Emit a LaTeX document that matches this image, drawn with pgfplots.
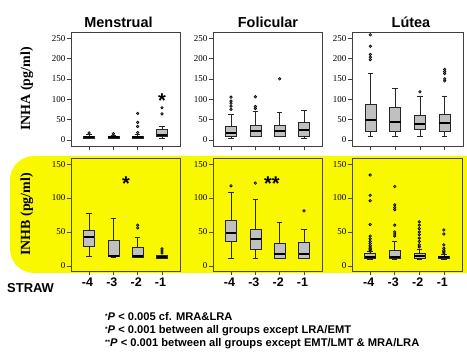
\documentclass[border=0pt]{standalone}
\usepackage{fontspec}
\setmainfont{Liberation Serif}
\newfontfamily\sansf{Liberation Sans}
\usepackage{pgfplots}
\pgfplotsset{compat=1.18}
\usepgfplotslibrary{statistics}
\definecolor{boxgray}{RGB}{192,192,192}
\definecolor{ylw}{RGB}{250,248,0}
\definecolor{frameol}{RGB}{80,76,10}
\tikzset{astnode/.style={anchor=north, inner sep=0pt, font=\sansf\bfseries\fontsize{20}{20}\selectfont}}
\pgfplotsset{
  panel/.style={scale only axis, width=109bp, xmin=0.26, xmax=4.74, xtick={1,2,3,4},
    tick align=outside, tick pos=left, major tick length=4.5bp,
    /pgf/number format/assume math mode=true,
    yticklabel style={font=\fontsize{9}{9}\selectfont, inner sep=1bp},
    every axis y label/.style={at={(axis description cs:-0.405,0.5)}, rotate=90, anchor=center, font=\fontsize{14}{14}\selectfont\bfseries},
  },
  toprow/.style={panel, height=114bp, ymin=-15, ymax=265, ytick={0,50,100,150,200,250}, xticklabels={},
    axis line style={draw=black!75, line width=0.7pt}, tick style={draw=black!75, line width=0.6pt}},
  botrow/.style={panel, height=113bp, ymin=-7.5, ymax=159, ytick={0,50,100,150},
    xticklabels={\mbox{-4},\mbox{-3},\mbox{-2},\mbox{-1}},
    xticklabel style={font=\sansf\bfseries\fontsize{12.5}{12.5}\selectfont, inner sep=2bp, xshift=-1.5bp},
    axis line style={draw=frameol, line width=0.8pt}, tick style={draw=frameol, line width=0.6pt}},
  bx/.style={draw=black!85, fill=boxgray, line width=0.5pt, solid, mark=*, mark size=1.3pt,
    mark options={draw=black, fill=black!45, line width=0.6pt},
    boxplot/draw direction=y,
    boxplot/box extend=0.45, boxplot/whisker extend=0.22,
    boxplot/every median/.style={line width=2pt, draw=black}},
}
% position, lower whisker, lower quartile, median, upper quartile, upper whisker, outliers
\newcommand{\bxo}[7]{\addplot[bx, boxplot prepared={draw position=#1, lower whisker=#2, lower quartile=#3, median=#4, upper quartile=#5, upper whisker=#6}] table[row sep=\\, y index=0] {v\\ #7};}
\newcommand{\bxn}[6]{\addplot[bx, boxplot prepared={draw position=#1, lower whisker=#2, lower quartile=#3, median=#4, upper quartile=#5, upper whisker=#6}] coordinates {};}
\begin{document}
\begin{tikzpicture}
\useasboundingbox (0,0) rectangle (467bp,361bp);
\fill[white] (0,0) rectangle (467bp,361bp);
\fill[ylw, rounded corners=24bp] (10bp,88bp) rectangle (520bp,205bp);
% titles
\node[anchor=base, font=\sansf\bfseries\fontsize{14.5}{14.5}\selectfont] at (118.5bp,333bp) {Menstrual};
\node[anchor=base, font=\sansf\bfseries\fontsize{14.5}{14.5}\selectfont] at (268bp,333bp) {Folicular};
\node[anchor=base, font=\sansf\bfseries\fontsize{14.5}{14.5}\selectfont] at (411bp,333bp) {Lútea};
% ---------------- top row: INHA
\begin{axis}[toprow, at={(71bp,329bp)}, anchor=north west, ylabel={INHA (pg/ml)}]
\bxo{1}{3}{5}{8}{10}{13}{17\\}
\bxo{2}{3}{5}{8}{10}{12}{15\\}
\bxo{3}{3}{5}{8}{10}{14}{18\\ 33\\ 43\\ 65\\}
\bxo{4}{4}{8}{12}{25}{34}{64\\ 79\\}
\node[astnode] at (axis cs:4,114) {*};
\end{axis}
\begin{axis}[toprow, at={(213bp,329bp)}, anchor=north west]
\bxo{1}{5}{8}{17}{33}{63}{75\\ 83\\ 90\\ 95\\ 105\\}
\bxo{2}{8}{10}{22}{35}{71}{77\\ 82\\ 106\\}
\bxo{3}{8}{10}{22}{35}{67}{150\\}
\bxn{4}{5}{10}{24}{44}{73}
\end{axis}
\begin{axis}[toprow, width=111bp, at={(352bp,329bp)}, anchor=north west]
\bxo{1}{8}{20}{50}{88}{163}{197\\ 203\\ 210\\ 230\\ 258\\}
\bxn{2}{8}{20}{45}{81}{127}
\bxo{3}{8}{26}{39}{60}{106}{118\\}
\bxo{4}{8}{21}{42}{63}{108}{145\\ 150\\ 163\\ 168\\ 173\\}
\end{axis}
% ---------------- bottom row: INHB
\begin{axis}[botrow, at={(71bp,203bp)}, anchor=north west, ylabel={INHB (pg/ml)}]
\bxn{1}{14}{29}{42}{53}{78}
\bxn{2}{13}{14}{14}{38}{70}
\bxo{3}{13}{13}{14}{27}{42}{56\\ 60\\}
\bxo{4}{12}{12}{13}{15}{16}{19\\ 22\\ 25\\}
\node[astnode] at (axis cs:2.52,132) {*};
\end{axis}
\begin{axis}[botrow, at={(213bp,203bp)}, anchor=north west]
\bxo{1}{11}{36}{48}{68}{109}{118\\}
\bxo{2}{11}{24}{40}{54}{98}{122\\}
\bxn{3}{11}{11}{17}{33}{64}
\bxo{4}{11}{11}{17}{35}{54}{81\\}
\node[astnode] at (axis cs:2.68,132) {**};
\end{axis}
\begin{axis}[botrow, width=110bp, at={(352bp,203bp)}, anchor=north west]
\bxo{1}{10}{11}{13}{18}{21}{22\\ 24\\ 26\\ 28\\ 30\\ 33\\ 36\\ 40\\ 44\\ 61\\ 96\\ 104\\ 134\\}
\bxo{2}{10}{11}{13}{23}{37}{44\\ 47\\ 50\\ 60\\ 83\\ 86\\ 90\\ 117\\}
\bxo{3}{10}{11}{14}{19}{25}{28\\ 31\\ 36\\ 41\\ 46\\ 50\\ 55\\ 60\\ 65\\}
\bxo{4}{10}{11}{13}{14}{17}{19\\ 21\\ 23\\ 26\\ 31\\ 47\\ 53\\}
\end{axis}
% STRAW label
\node[anchor=base west, inner sep=0pt, font=\sansf\bfseries\fontsize{13}{13}\selectfont] at (7bp,68bp) {STRAW};
% footnotes
\begin{scope}[every node/.style={anchor=base west, inner sep=0pt, font=\sansf\bfseries\fontsize{11.2}{11.2}\selectfont}]
\node at (105bp,40bp) {\raisebox{0.35ex}{\fontsize{6.5}{6.5}\selectfont *}\textit{P} < 0.005 cf. MRA\&LRA};
\node at (105bp,27bp) {\raisebox{0.35ex}{\fontsize{6.5}{6.5}\selectfont *}\textit{P} < 0.001 between all groups except LRA/EMT};
\node at (105bp,14bp) {\raisebox{0.35ex}{\fontsize{6.5}{6.5}\selectfont **}\textit{P} < 0.001 between all groups except EMT/LMT \& MRA/LRA};
\end{scope}
\end{tikzpicture}
\end{document}
